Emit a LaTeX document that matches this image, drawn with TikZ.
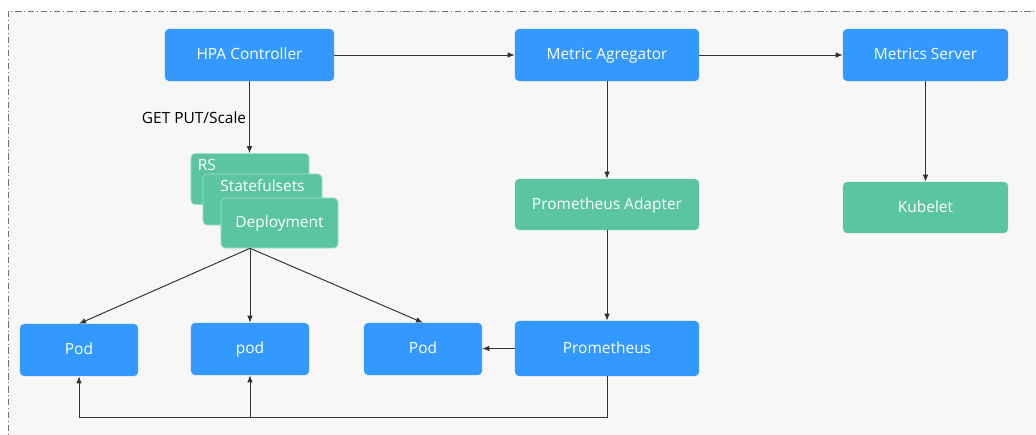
\documentclass[tikz,border=0pt]{standalone}
\usepackage{fontspec}
\setmainfont{Open Sans}
\usetikzlibrary{arrows.meta}
\definecolor{k8s-blue}{HTML}{3399FF}
\definecolor{k8s-green}{HTML}{5BC5A0}
\definecolor{stack-edge}{HTML}{A6E0CB}
\definecolor{frame-bg}{HTML}{F7F7F7}
\definecolor{frame-line}{HTML}{707070}
\definecolor{link}{HTML}{333333}

\begin{document}
\begin{tikzpicture}[x=0.025cm, y=-0.025cm,
      every node/.style={font=\fontsize{11}{13}\selectfont},
      bluebox/.style={fill=k8s-blue, text=white, rounded corners=0.1cm,
          minimum height=1.3cm, text height=0.85em, text depth=0.15em},
      greenbox/.style={fill=k8s-green, text=white, rounded corners=0.1cm,
          minimum height=1.275cm, text height=0.85em, text depth=0.15em},
      stackbox/.style={greenbox, draw=stack-edge, line width=0.4pt},
      link/.style={draw=link, line width=0.7pt, -{Latex[length=5pt,width=4pt]}}]
    \useasboundingbox (0,0) rectangle (1036,434);
    \clip (0,0) rectangle (1036,434);
    \fill[white] (0,0) rectangle (1036,434);
    \draw[fill=frame-bg, draw=frame-line, line width=0.6pt,
          dash pattern=on 4.5pt off 2pt on 0.7pt off 2pt]
          (8,11) rectangle (1060,460);

    \node[bluebox, minimum width=4.225cm] (hpa) at (249.5,55) {HPA Controller};
    \node[bluebox, minimum width=4.6cm] (agg) at (607,55) {Metric Agregator};
    \node[bluebox, minimum width=4.125cm] (ms) at (925.5,55) {Metrics Server};
    \node[greenbox, minimum width=4.6cm] (adapter) at (607,204.5) {Prometheus Adapter};
    \node[greenbox, minimum width=4.125cm] (kubelet) at (925.5,207.5) {Kubelet};
    \node[bluebox, minimum width=4.6cm, minimum height=1.375cm]
          (prom) at (607,348.5) {Prometheus};

    \node[stackbox, minimum width=2.95cm] (rs) at (250,179) {};
    \node[text=white, anchor=north west, inner sep=0pt] (rslbl)
          at ([xshift=0.17cm, yshift=-0.15cm]rs.north west) {RS};
    \node[stackbox, minimum width=2.975cm] (sts) at (262.5,199.5) {};
    \node[text=white, anchor=north, inner sep=0pt] (stslbl)
          at ([yshift=-0.13cm]sts.north) {Statefulsets};
    \node[stackbox, minimum width=2.925cm, minimum height=1.25cm]
          (dep) at (279.5,223) {Deployment};

    \node[bluebox, minimum width=2.95cm] (pod1) at (79,350) {Pod};
    \node[bluebox, minimum width=2.95cm] (pod2) at (250,349) {pod};
    \node[bluebox, minimum width=2.95cm] (pod3) at (423,349) {Pod};

    \coordinate (fork) at (dep.south -| pod2.north);
    \coordinate (back) at (250,417);

    \draw[link] (hpa.east) -- (agg.west);
    \draw[link] (agg.east) -- (ms.west);
    \draw[link] (hpa.south) -- (hpa.south |- rs.north)
          node[midway, left, text=black, inner sep=2pt] {GET PUT/Scale};
    \draw[link] (agg.south) -- (adapter.north);
    \draw[link] (ms.south) -- (kubelet.north);
    \draw[link] (adapter.south) -- (prom.north);
    \draw[link] (prom.west) -- (pod3.east |- prom.west);
    \draw[link] (fork) -- (pod1.north);
    \draw[link] (fork) -- (pod2.north);
    \draw[link] (fork) -- (pod3.north);
    \draw[link] (prom.south) |- (pod1.south |- back) -- (pod1.south);
    \draw[link] (back) -- (pod2.south);
  \end{tikzpicture}
\end{document}
